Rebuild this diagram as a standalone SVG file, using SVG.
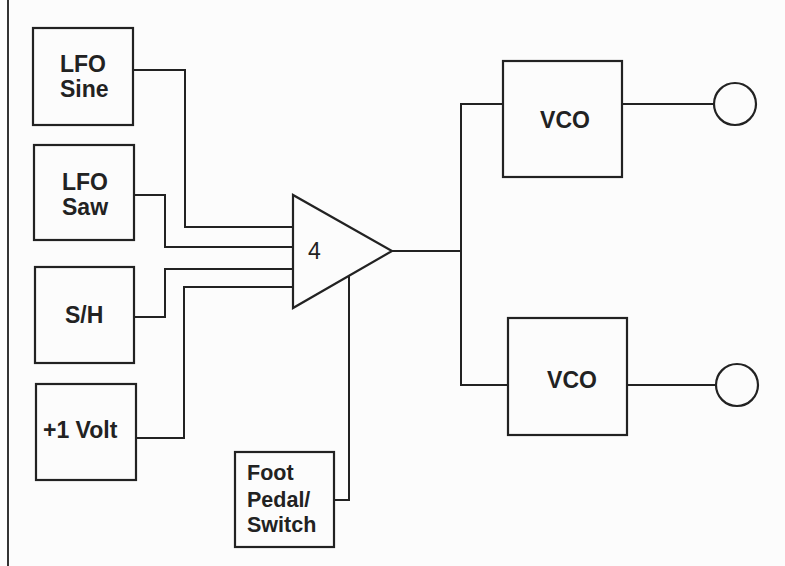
<svg xmlns="http://www.w3.org/2000/svg" width="785" height="566" viewBox="0 0 785 566">
<style>
.box{fill:none;stroke:#222;stroke-width:2.2}
.wire{fill:none;stroke:#222;stroke-width:2}
.lbl{font-family:"Liberation Sans",Arial,sans-serif;font-weight:bold;font-size:23px;fill:#222}
.sm{font-size:21.5px}
.num{font-family:"Liberation Sans",Arial,sans-serif;font-size:23px;fill:#222}
</style>
<rect width="785" height="566" fill="#fcfcfc"/>
<line x1="8" y1="0" x2="8" y2="566" stroke="#333" stroke-width="2"/>
<g id="connectors">
<polyline class="wire" points="133,70 185,70 185,227 293,227"/>
<polyline class="wire" points="134,195 165,195 165,247 293,247"/>
<polyline class="wire" points="134,317 165,317 165,269 293,269"/>
<polyline class="wire" points="136,438 184,438 184,287 293,287"/>
<polyline class="wire" points="334,500 349,500 349,276"/>
<polyline class="wire" points="392,251 461,251"/>
<polyline class="wire" points="503,104 461,104 461,385 508,385"/>
<line class="wire" x1="622" y1="104" x2="714" y2="104"/>
<line class="wire" x1="627" y1="385" x2="715" y2="385"/>
</g>
<g id="lfo-sine"><rect class="box" x="33" y="28" width="100" height="97"/><text class="lbl" x="60" y="72">LFO</text><text class="lbl" x="60" y="97">Sine</text></g>
<g id="lfo-saw"><rect class="box" x="34" y="145" width="100" height="95"/><text class="lbl" x="62" y="190">LFO</text><text class="lbl" x="62" y="215">Saw</text></g>
<g id="sh"><rect class="box" x="35" y="267" width="99" height="96"/><text class="lbl" x="65" y="323">S/H</text></g>
<g id="volt"><rect class="box" x="36" y="384" width="100" height="96"/><text class="lbl" x="43" y="438">+1 Volt</text></g>
<g id="foot"><rect class="box" x="235" y="452" width="99" height="95"/><text class="lbl sm" x="247" y="480">Foot</text><text class="lbl sm" x="247" y="507">Pedal/</text><text class="lbl sm" x="247" y="532">Switch</text></g>
<g id="amp"><polygon class="box" points="293,195 293,308 392,251"/><text class="num" x="308" y="259">4</text></g>
<g id="vco1"><rect class="box" x="503" y="61" width="119" height="116"/><text class="lbl" x="565" y="128" text-anchor="middle">VCO</text></g>
<g id="vco2"><rect class="box" x="508" y="318" width="119" height="117"/><text class="lbl" x="572" y="388" text-anchor="middle">VCO</text></g>
<g id="out1"><circle class="box" cx="735" cy="104" r="21"/></g>
<g id="out2"><circle class="box" cx="737" cy="385" r="21"/></g>
</svg>
